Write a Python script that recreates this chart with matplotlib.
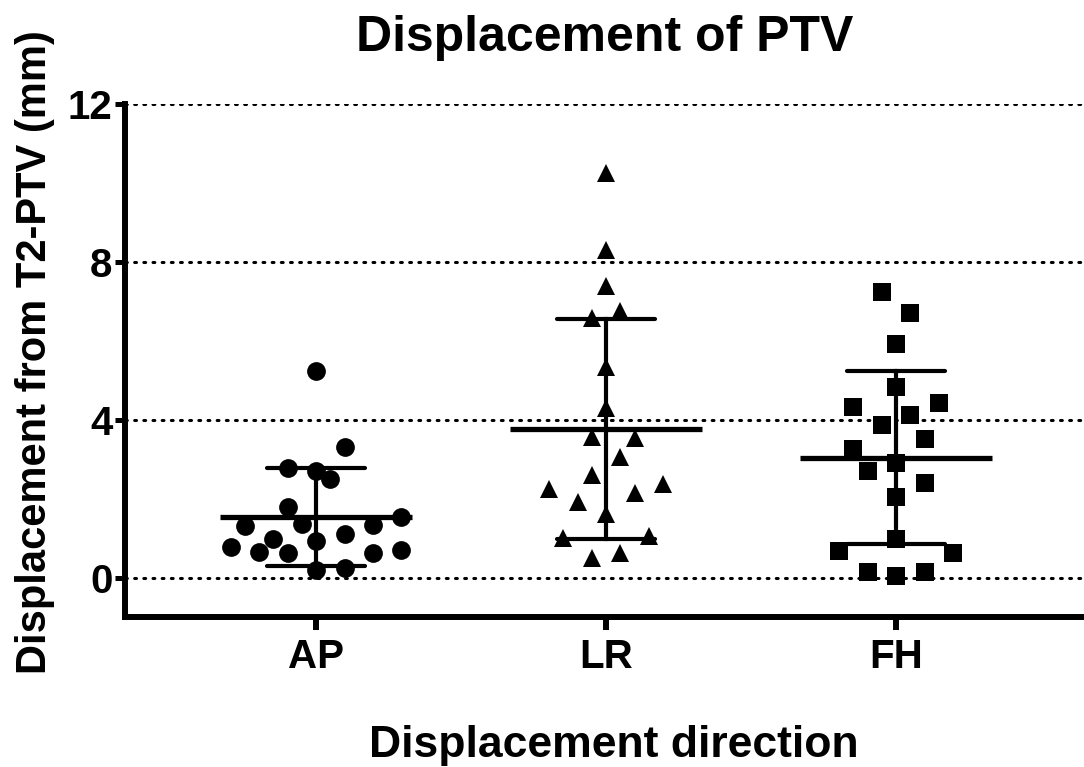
import matplotlib
matplotlib.use("Agg")
import matplotlib.pyplot as plt
import numpy as np

plt.rcParams['font.family'] = ['Liberation Sans', 'DejaVu Sans']
plt.rcParams['font.weight'] = 'bold'

groups = ['AP', 'LR', 'FH']
markers = ['o', '^', 's']

# displacement values (mm), with the swarm column of each point
ap_vals = [5.25, 3.32, 2.78, 2.71, 2.50, 1.80, 1.55, 1.32, 1.36, 1.34,
           0.99, 1.11, 0.94, 0.79, 0.65, 0.62, 0.62, 0.71, 0.20, 0.26]
ap_slot = [0, 2, -2, 0, 1, -2, 6, -5, -1, 4, -3, 2, 0, -6, -4, -2, 4, 6, 0, 2]

lr_vals = [10.25, 8.30, 7.39, 6.57, 6.76, 5.35, 4.30, 3.58, 3.54, 3.07,
           2.61, 2.25, 2.37, 1.93, 2.16, 1.61, 1.00, 1.05, 0.50, 0.62]
lr_slot = [0, 0, 0, -1, 1, 0, 0, -1, 2, 1, -1, -4, 4, -2, 2, 0, -3, 3, -1, 1]

fh_vals = [7.25, 6.70, 5.92, 4.83, 4.32, 4.42, 4.13, 3.87, 3.51, 3.26,
           2.90, 2.71, 2.40, 2.04, 0.98, 0.67, 0.64, 0.16, 0.16, 0.05]
fh_slot = [-1, 1, 0, 0, -3, 3, 1, -1, 2, -3, 0, -2, 2, 0, 0, -4, 4, -2, 2, 0]

all_vals = [ap_vals, lr_vals, fh_vals]
all_slots = [ap_slot, lr_slot, fh_slot]

fig = plt.figure(figsize=(10.84, 7.67), dpi=100)
ax = fig.add_axes([0.1153, 0.1956, 0.8847, 0.6688])

step = 0.049
for i in range(3):
    v = np.array(all_vals[i])
    s = np.array(all_slots[i])
    ax.plot(i + s * step, v, linestyle='none', marker=markers[i], color='black',
            markersize=13.5 if i != 2 else 13, markeredgewidth=0, zorder=3)
    m = v.mean()
    sd = v.std(ddof=1)
    ax.plot([i - 0.33, i + 0.33], [m, m], color='black', lw=3.8,
            solid_capstyle='butt', zorder=4)
    ax.plot([i, i], [m - sd, m + sd], color='black', lw=3.0, zorder=4)
    for y in (m - sd, m + sd):
        ax.plot([i - 0.17, i + 0.17], [y, y], color='black', lw=3.0,
                solid_capstyle='round', zorder=4)

ax.set_xlim(-0.659, 2.648)
ax.set_ylim(-0.99, 12)
ax.set_yticks([0, 4, 8, 12])
ax.set_xticks(range(3))
ax.set_xticklabels(groups)
ax.yaxis.grid(True, color='black', linestyle=(0, (0.6, 2.4)), lw=2.2,
              dash_capstyle='round')
ax.set_axisbelow(True)

for sp in ['top', 'right']:
    ax.spines[sp].set_visible(False)
for sp in ['left', 'bottom']:
    ax.spines[sp].set_linewidth(4.3)
    ax.spines[sp].set_capstyle('projecting')
ax.spines['left'].set_bounds(-0.99, 12)

ax.tick_params(axis='y', length=7, width=3.6, labelsize=29, pad=2)
ax.tick_params(axis='x', length=9, width=4.3, labelsize=29, pad=6)

ax.set_title('Displacement of PTV', fontsize=36, fontweight='bold', pad=38)
ax.set_xlabel('Displacement direction', fontsize=32, fontweight='bold')
ax.xaxis.set_label_coords(0.51, -0.273)
ax.xaxis.label.set_va('baseline')
ax.set_ylabel('Displacement from T2-PTV (mm)', fontsize=30, fontweight='bold')
ax.yaxis.set_label_coords(-0.082, 0.517)
ax.yaxis.label.set_va('baseline')

fig.savefig('out.png', dpi=100)
